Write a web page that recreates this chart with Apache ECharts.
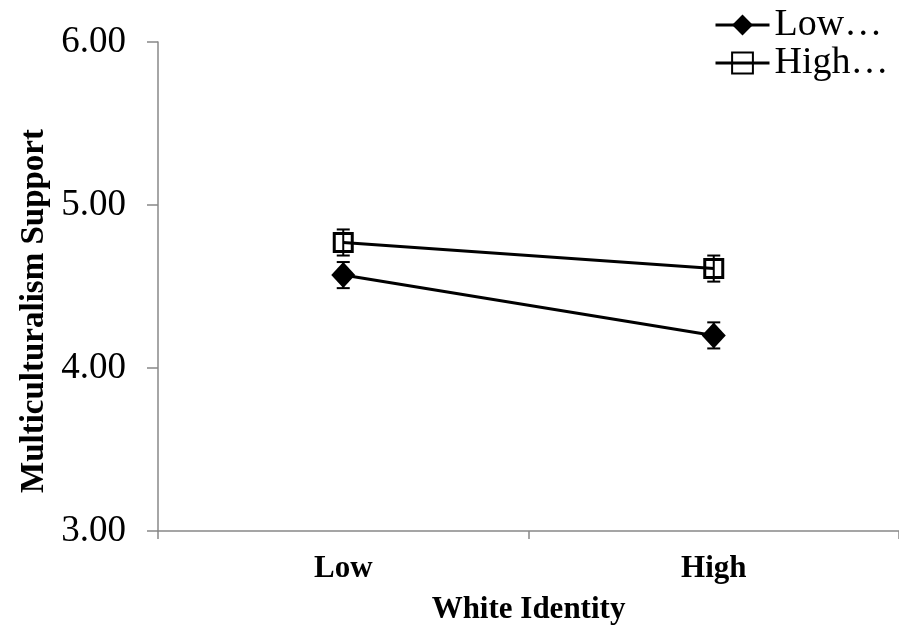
<!DOCTYPE html>
<html>
<head>
<meta charset="utf-8">
<script src="https://cdn.jsdelivr.net/npm/echarts@6/dist/echarts.min.js"></script>
<style>html,body{margin:0;padding:0;background:#fff}#c{width:899px;height:632px}</style>
</head>
<body>
<div id="c"></div>
<script>
var categories = ['Low', 'High'];
var seriesNames = ['Low…', 'High…'];
var lowValues = [4.57, 4.20];
var highValues = [4.77, 4.61];
var lowErr = [0.08, 0.08];
var highErr = [0.08, 0.08];
var yTicks = [3, 4, 5, 6];
var yTitle = 'Multiculturalism Support';
var xTitle = 'White Identity';

function errData(vals, errs) {
  return vals.map(function (v, i) { return [i, v - errs[i], v + errs[i]]; });
}
function errRender(params, api) {
  var x = api.value(0);
  var lo = api.coord([x, api.value(1)]);
  var hi = api.coord([x, api.value(2)]);
  var cap = 6.5;
  var st = { stroke: '#000', lineWidth: 2 };
  return {
    type: 'group',
    children: [
      { type: 'line', shape: { x1: lo[0], y1: lo[1], x2: hi[0], y2: hi[1] }, style: st },
      { type: 'line', shape: { x1: lo[0] - cap, y1: lo[1], x2: lo[0] + cap, y2: lo[1] }, style: st },
      { type: 'line', shape: { x1: hi[0] - cap, y1: hi[1], x2: hi[0] + cap, y2: hi[1] }, style: st }
    ]
  };
}

var chart = echarts.init(document.getElementById('c'));
chart.setOption({
  animation: false,
  backgroundColor: '#fff',
  grid: { left: 158, right: 0, top: 42, bottom: 101 },
  graphic: [{
    type: 'text',
    x: 34, y: 311,
    rotation: Math.PI / 2,
    style: {
      text: yTitle,
      font: 'bold 33px "Liberation Serif"',
      fill: '#000',
      textAlign: 'center',
      textVerticalAlign: 'middle'
    }
  }],
  legend: {
    orient: 'vertical',
    left: 709,
    top: 1,
    itemWidth: 54,
    itemHeight: 26,
    itemGap: 0,
    lineStyle: { width: 3, color: '#000' },
    textStyle: { fontFamily: 'Liberation Serif', fontSize: 38, lineHeight: 36, color: '#000' },
    data: seriesNames
  },
  xAxis: {
    type: 'category',
    data: categories,
    boundaryGap: true,
    axisLine: { lineStyle: { color: '#888', width: 1.5 } },
    axisTick: { show: true, length: 8, interval: function (index) { return index < categories.length; },
      lineStyle: { color: '#888', width: 1.5 } },
    axisLabel: { fontFamily: 'Liberation Serif', fontWeight: 'bold', fontSize: 31, color: '#000', margin: 22 },
    name: xTitle,
    nameLocation: 'middle',
    nameGap: 63,
    nameTextStyle: { fontFamily: 'Liberation Serif', fontWeight: 'bold', fontSize: 31, color: '#000' }
  },
  yAxis: {
    type: 'value',
    min: yTicks[0], max: yTicks[yTicks.length - 1], interval: 1,
    splitLine: { show: false },
    axisLine: { show: true, lineStyle: { color: '#888', width: 1.5 } },
    axisTick: { show: true, length: 11, lineStyle: { color: '#888', width: 1.5 } },
    axisLabel: { fontFamily: 'Liberation Serif', fontSize: 37, color: '#000', margin: 32,
      formatter: function (v) { return v.toFixed(2); } }
  },
  series: [
    {
      name: seriesNames[0], type: 'line', data: lowValues,
      symbol: 'diamond', symbolSize: [24, 26],
      itemStyle: { color: '#000' },
      lineStyle: { color: '#000', width: 3 },
      z: 3
    },
    {
      name: seriesNames[1], type: 'line', data: highValues,
      symbol: 'rect', symbolSize: 18,
      itemStyle: { color: 'rgba(255,255,255,0)', borderColor: '#000', borderWidth: 3 },
      lineStyle: { color: '#000', width: 3 },
      z: 3
    },
    { type: 'custom', renderItem: errRender, data: errData(lowValues, lowErr), z: 5, silent: true },
    { type: 'custom', renderItem: errRender, data: errData(highValues, highErr), z: 5, silent: true }
  ]
});
</script>
</body>
</html>
